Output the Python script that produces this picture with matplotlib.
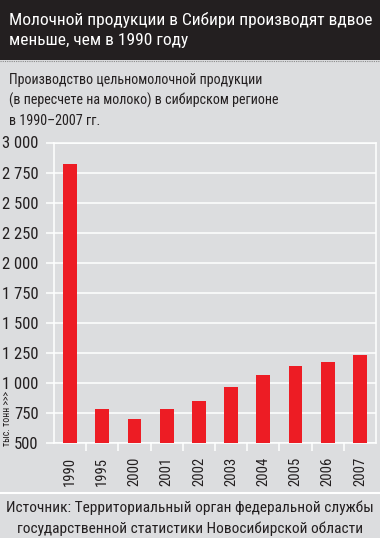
import matplotlib
matplotlib.use("Agg")
import matplotlib.pyplot as plt
from matplotlib import font_manager
from matplotlib.patches import Rectangle
from matplotlib.lines import Line2D
from matplotlib.ticker import FixedLocator

# ---- data ----
years = ["1990", "1995", "2000", "2001", "2002", "2003", "2004", "2005", "2006", "2007"]
production = [2820, 785, 700, 785, 850, 967, 1067, 1142, 1175, 1228]
yticks = [500, 750, 1000, 1250, 1500, 1750, 2000, 2250, 2500, 2750, 3000]
ytick_labels = ["500", "750", "1 000", "1 250", "1 500", "1 750", "2 000",
                "2 250", "2 500", "2 750", "3 000"]

title = "Молочной продукции в Сибири производят вдвое\nменьше, чем в 1990 году"
subtitle = ["Производство цельномолочной продукции",
            "(в пересчете на молоко) в сибирском регионе",
            "в 1990–2007 гг."]
source = ["Источник: Территориальный орган федеральной службы",
          "государственной статистики Новосибирской области"]
ylabel = "тыс. тонн >>>"

# ---- font: prefer a narrow face ----
names = {f.name for f in font_manager.fontManager.ttflist}
fam = "DejaVu Sans"
for cand in ["Liberation Sans Narrow", "Roboto Condensed", "Roboto", "Liberation Sans"]:
    if cand in names:
        fam = cand
        break
plt.rcParams["font.family"] = [fam, "DejaVu Sans"]

bg = "#dcdddf"
red = "#ed1c24"
dark = "#231f20"
txt = "#231f20"

W, H = 380, 538
fig = plt.figure(figsize=(W / 100, H / 100), dpi=100, facecolor=bg)

def fx(px):
    return px / W

def fy(py):
    return 1 - py / H

# header band
fig.add_artist(Rectangle((0, fy(60)), 1, 60 / H, transform=fig.transFigure,
                         facecolor=dark, edgecolor="none"))
fig.add_artist(Line2D([0, 1], [fy(61), fy(61)], transform=fig.transFigure,
                      color="#8a8a8a", lw=0.8, ls=(0, (1, 1))))
fig.text(fx(9), fy(30), title, color="white", fontsize=12.5, va="center",
         ha="left", linespacing=1.5)

for i, line in enumerate(subtitle):
    fig.text(fx(9), fy(80 + 20.5 * i), line, color=txt, fontsize=10.1,
             va="center", ha="left")

# chart
ax = fig.add_axes([fx(54), fy(443), fx(376) - fx(54), fy(142.5) - fy(443)])
ax.set_facecolor(bg)
x = list(range(len(years)))
ax.bar(x, production, width=0.43, color=red, zorder=3)
ax.set_xlim(-0.5, len(years) - 0.5)
ax.set_ylim(500, 3000)

ax.yaxis.set_major_locator(FixedLocator(yticks))
ax.set_yticklabels(ytick_labels)
ax.grid(axis="y", color="white", lw=1.1, zorder=1)
ax.tick_params(axis="y", colors="white", length=6, width=1.1, pad=5,
               labelcolor=txt, labelsize=12)

ax.set_xticks(x)
ax.set_xticklabels(years, rotation=90, va="top", ha="center")
ax.set_xticks([i + 0.5 for i in x[:-1]], minor=True)
ax.tick_params(axis="x", which="major", length=0, pad=10, labelcolor=txt,
               labelsize=10.5)
ax.tick_params(axis="x", which="minor", length=6, width=1.1, color="white")

for side in ["left", "right", "top", "bottom"]:
    ax.spines[side].set_color("white")
    ax.spines[side].set_linewidth(1.1)
ax.spines["left"].set_bounds(500, 3000)

fig.text(fx(7.5), fy(419), ylabel, rotation=90, color=txt, fontsize=7,
         va="center", ha="center")

# bottom separator and source
fig.add_artist(Line2D([0, 1], [fy(493), fy(493)], transform=fig.transFigure,
                      color="white", lw=1.5))
for i, line in enumerate(source):
    fig.text(0.5, fy(508 + 20.5 * i), line, color=txt, fontsize=11.1,
             va="center", ha="center")

fig.savefig("out.png", dpi=100, facecolor=bg)
